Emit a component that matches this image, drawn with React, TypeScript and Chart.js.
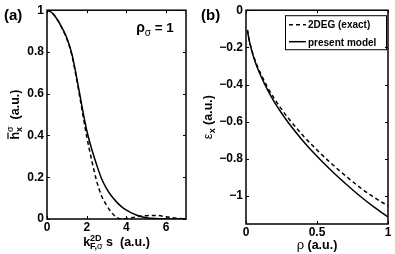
import React, { useEffect, useRef } from "react";
import { Chart, registerables } from "chart.js";

Chart.register(...registerables);

// ---------- Panel (a): exchange hole ----------
const kValues = [0, 0.25, 0.5, 0.75, 1.0, 1.25, 1.5, 1.75, 2.0, 2.25, 2.5, 2.75, 3.0, 3.25, 3.5, 3.75, 4.0, 4.25, 4.5, 4.75, 5.0, 5.5, 6.0, 6.5, 7.0];
const holeExact = [1.0, 0.988, 0.958, 0.915, 0.862, 0.785, 0.665, 0.53, 0.395, 0.282, 0.182, 0.11, 0.066, 0.031, 0.009, 0.0, 0.002, 0.006, 0.01, 0.014, 0.016, 0.017, 0.011, 0.004, 0.0];
const holeModel = [1.0, 0.988, 0.958, 0.917, 0.867, 0.792, 0.675, 0.545, 0.425, 0.335, 0.26, 0.193, 0.146, 0.11, 0.082, 0.059, 0.042, 0.029, 0.019, 0.011, 0.006, 0.002, 0.0005, 0.0, 0.0];
const kTicks = [0, 2, 4, 6];
const kTickLabels = ["0", "2", "4", "6"];
const holeTicks = [0, 0.2, 0.4, 0.6, 0.8, 1];
const holeTickLabels = ["0", "0.2", "0.4", "0.6", "0.8", "1"];

// ---------- Panel (b): exchange energy ----------
const rhoValues = [0.01, 0.02, 0.03, 0.05, 0.07, 0.1, 0.15, 0.2, 0.25, 0.3, 0.4, 0.5, 0.6, 0.7, 0.8, 0.9, 1.0];
const epsExact = [-0.106, -0.15, -0.184, -0.238, -0.282, -0.336, -0.412, -0.476, -0.532, -0.583, -0.673, -0.752, -0.824, -0.89, -0.952, -1.006, -1.052];
const epsModel = [-0.108, -0.153, -0.188, -0.244, -0.29, -0.346, -0.426, -0.494, -0.553, -0.607, -0.702, -0.786, -0.862, -0.932, -0.998, -1.058, -1.112];
const rhoTicks = [0, 0.5, 1];
const rhoTickLabels = ["0", "0.5", "1"];
const epsTicks = [-1, -0.8, -0.6, -0.4, -0.2, 0];
const epsTickLabels = ["\u22121", "\u22120.8", "\u22120.6", "\u22120.4", "\u22120.2", "0"];

const seriesLabels = ["2DEG (exact)", "present model"];

const FAM = "'Liberation Sans', Arial, Helvetica, sans-serif";
const bold = (s: number) => `bold ${s}px ${FAM}`;
const reg = (s: number) => `${s}px ${FAM}`;

type Seg = { t: string; f: string };

function runWidth(ctx: CanvasRenderingContext2D, segs: Seg[]) {
  let w = 0;
  for (const s of segs) {
    ctx.font = s.f;
    w += ctx.measureText(s.t).width;
  }
  return w;
}
function drawRun(ctx: CanvasRenderingContext2D, segs: Seg[], x: number, y: number) {
  let cx = x;
  for (const s of segs) {
    ctx.font = s.f;
    ctx.fillText(s.t, cx, y);
    cx += ctx.measureText(s.t).width;
  }
  return cx - x;
}

// draw main + (sup/sub stacked) + rest
function drawScript(
  ctx: CanvasRenderingContext2D,
  main: Seg[],
  sup: Seg[],
  sub: Seg[],
  rest: Seg[],
  cx: number,
  y: number,
  supDy: number,
  subDy: number,
  bar = false
) {
  const wm = runWidth(ctx, main);
  const ws = Math.max(runWidth(ctx, sup), runWidth(ctx, sub));
  const wr = runWidth(ctx, rest);
  const x0 = cx - (wm + ws + wr) / 2;
  drawRun(ctx, main, x0, y);
  if (bar) {
    ctx.save();
    ctx.lineWidth = 1.2;
    ctx.beginPath();
    ctx.moveTo(x0 + 0.5, y - 11);
    ctx.lineTo(x0 + wm - 0.5, y - 11);
    ctx.stroke();
    ctx.restore();
  }
  drawRun(ctx, sup, x0 + wm, y + supDy);
  drawRun(ctx, sub, x0 + wm, y + subDy);
  drawRun(ctx, rest, x0 + wm + ws, y);
}

const framePlugin = {
  id: "frameTicks",
  afterDraw(chart: any) {
    const { ctx, chartArea: a, scales } = chart;
    ctx.save();
    ctx.strokeStyle = "#000";
    ctx.lineWidth = 1;
    const tl = 3;
    ctx.beginPath();
    for (const t of scales.x.ticks) {
      const px = Math.round(scales.x.getPixelForValue(t.value)) + 0.5;
      ctx.moveTo(px, a.bottom);
      ctx.lineTo(px, a.bottom - tl);
      ctx.moveTo(px, a.top);
      ctx.lineTo(px, a.top + tl);
    }
    for (const t of scales.y.ticks) {
      const py = Math.round(scales.y.getPixelForValue(t.value)) + 0.5;
      ctx.moveTo(a.left, py);
      ctx.lineTo(a.left + tl, py);
      ctx.moveTo(a.right, py);
      ctx.lineTo(a.right - tl, py);
    }
    ctx.stroke();
    ctx.lineWidth = 1.5;
    ctx.strokeRect(a.left, a.top, a.right - a.left, a.bottom - a.top);
    ctx.restore();
  },
};

function axisOpts(min: number, max: number, ticks: number[], labels: string[], fit: (s: any) => void, pad: number) {
  return {
    type: "linear" as const,
    min,
    max,
    grid: { display: false, drawTicks: false },
    border: { display: false },
    ticks: {
      autoSkip: false,
      maxRotation: 0,
      padding: pad,
      color: "#000",
      font: { family: FAM, size: 12, weight: "bold" as const },
      callback: (_v: any, i: number) => labels[i],
    },
    afterBuildTicks: (scale: any) => {
      scale.ticks = ticks.map((v) => ({ value: v }));
    },
    afterFit: fit,
  };
}

function makeDatasets(xs: number[], exact: number[], model: number[]) {
  return [
    {
      label: seriesLabels[0],
      data: xs.map((x, i) => ({ x, y: exact[i] })),
      showLine: true,
      borderColor: "#000",
      borderWidth: 1.5,
      borderDash: [4, 3],
      pointRadius: 0,
      cubicInterpolationMode: "monotone" as const,
    },
    {
      label: seriesLabels[1],
      data: xs.map((x, i) => ({ x, y: model[i] })),
      showLine: true,
      borderColor: "#000",
      borderWidth: 1.5,
      pointRadius: 0,
      cubicInterpolationMode: "monotone" as const,
    },
  ];
}

export default function App() {
  const refA = useRef<HTMLCanvasElement>(null);
  const refB = useRef<HTMLCanvasElement>(null);

  useEffect(() => {
    const textA = {
      id: "textA",
      afterDraw(chart: any) {
        const { ctx, chartArea: a } = chart;
        ctx.save();
        ctx.fillStyle = "#000";
        ctx.strokeStyle = "#000";
        ctx.textBaseline = "alphabetic";
        ctx.textAlign = "left";
        ctx.font = bold(15);
        ctx.fillText("(a)", 4, 20);
        drawScript(ctx, [{ t: "\u03c1", f: bold(14) }], [], [{ t: "\u03c3", f: reg(10) }], [{ t: " = 1", f: bold(13.5) }], a.right - 31, a.top + 22, 0, 4);
        const cx = (a.left + a.right) / 2;
        drawScript(
          ctx,
          [{ t: "k", f: bold(12.5) }],
          [{ t: "2D", f: bold(9) }],
          [{ t: "F,", f: bold(9) }, { t: "\u03c3", f: reg(9) }],
          [{ t: " s  (a.u.)", f: bold(12.5) }],
          cx,
          246,
          -5.5,
          3
        );
        ctx.translate(19, (a.top + a.bottom) / 2);
        ctx.rotate(-Math.PI / 2);
        drawScript(ctx, [{ t: "h", f: bold(12.5) }], [{ t: "\u03c3", f: reg(9) }], [{ t: "x", f: bold(9) }], [{ t: "  (a.u.)", f: bold(12.5) }], 0, 0, -6, 3, true);
        ctx.restore();
      },
    };

    const textB = {
      id: "textB",
      afterDraw(chart: any) {
        const { ctx, chartArea: a } = chart;
        ctx.save();
        ctx.fillStyle = "#000";
        ctx.strokeStyle = "#000";
        ctx.textBaseline = "alphabetic";
        ctx.textAlign = "left";
        ctx.font = bold(15);
        ctx.fillText("(b)", 4, 20);
        drawScript(ctx, [{ t: "\u03c1", f: reg(13) }], [], [], [{ t: " (a.u.)", f: bold(12.5) }], (a.left + a.right) / 2, 249, 0, 0);
        const bx = a.right - 103;
        const by = a.top + 5;
        ctx.lineWidth = 1;
        ctx.strokeRect(bx + 0.5, by + 0.5, 101, 34);
        ctx.lineWidth = 1.5;
        ctx.setLineDash([4, 3]);
        ctx.beginPath();
        ctx.moveTo(bx + 4, by + 9.5);
        ctx.lineTo(bx + 21, by + 9.5);
        ctx.stroke();
        ctx.setLineDash([]);
        ctx.beginPath();
        ctx.moveTo(bx + 4, by + 26.5);
        ctx.lineTo(bx + 21, by + 26.5);
        ctx.stroke();
        ctx.font = bold(10);
        ctx.fillText(seriesLabels[0], bx + 23, by + 13);
        ctx.fillText(seriesLabels[1], bx + 23, by + 30.5);
        ctx.translate(15, (a.top + a.bottom) / 2);
        ctx.rotate(-Math.PI / 2);
        drawScript(ctx, [{ t: "\u03b5", f: reg(13) }], [], [{ t: "x", f: bold(9) }], [{ t: " (a.u.)", f: bold(12.5) }], 0, 0, 0, 3);
        ctx.restore();
      },
    };

    const chartA = new Chart(refA.current!, {
      type: "scatter",
      data: { datasets: makeDatasets(kValues, holeExact, holeModel) as any },
      options: {
        responsive: false,
        animation: false,
        layout: { padding: { top: 10, right: 11, left: 0, bottom: 0 } },
        plugins: { legend: { display: false }, tooltip: { enabled: false } },
        scales: {
          x: axisOpts(0, 7, kTicks, kTickLabels, (s: any) => { s.height = 35; }, 1) as any,
          y: axisOpts(0, 1, holeTicks, holeTickLabels, (s: any) => { s.width = 47; }, 3) as any,
        },
      },
      plugins: [framePlugin, textA],
    });

    const chartB = new Chart(refB.current!, {
      type: "scatter",
      data: { datasets: makeDatasets(rhoValues, epsExact, epsModel) as any },
      options: {
        responsive: false,
        animation: false,
        layout: { padding: { top: 10, right: 7, left: 0, bottom: 0 } },
        plugins: { legend: { display: false }, tooltip: { enabled: false } },
        scales: {
          x: axisOpts(0, 1, rhoTicks, rhoTickLabels, (s: any) => { s.height = 30; }, 1) as any,
          y: axisOpts(-1.15, 0, epsTicks, epsTickLabels, (s: any) => { s.width = 49; }, 3) as any,
        },
      },
      plugins: [framePlugin, textB],
    });

    return () => {
      chartA.destroy();
      chartB.destroy();
    };
  }, []);

  return (
    <div style={{ position: "absolute", left: 0, top: 0, width: 395, height: 254, background: "#fff" }}>
      <canvas ref={refA} width={197} height={254} style={{ position: "absolute", left: 0, top: 0, width: 197, height: 254 }} />
      <canvas ref={refB} width={198} height={254} style={{ position: "absolute", left: 197, top: 0, width: 198, height: 254 }} />
    </div>
  );
}
